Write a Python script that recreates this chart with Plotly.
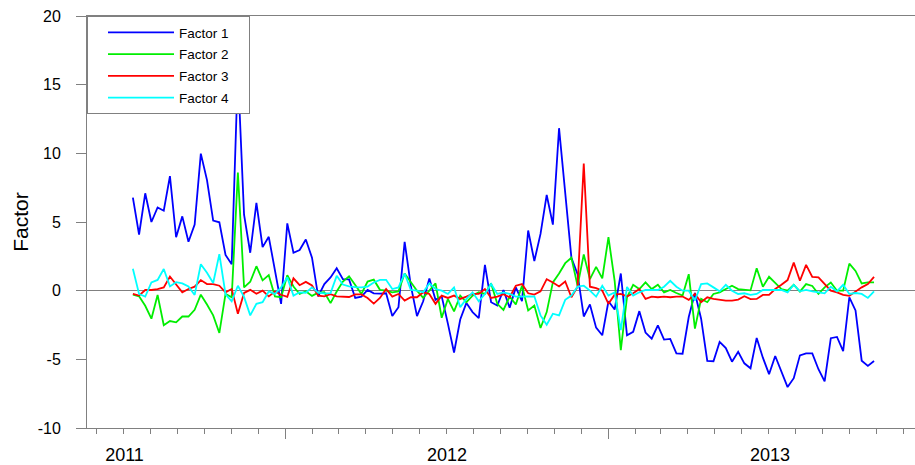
import pandas as pd
import plotly.graph_objects as go

# Weekly factor scores
start_date = "2011-07-12"
n_weeks = 121

factor1 = [6.78, 4.09, 7.09, 5.0, 6.06, 5.82, 8.34, 3.89, 5.41, 3.56,
           4.81, 9.98, 8.05, 5.1, 4.98, 2.6, 1.92, 16.0, 5.53, 2.76,
           6.4, 3.17, 3.92, 1.5, -0.96, 4.9, 2.76, 2.96, 3.73, 2.4,
           -0.41, 0.48, 0.96, 1.63, 0.84, 0.82, -0.53, -0.43, 0.05, -0.19,
           -0.22, -0.19, -1.85, -1.2, 3.56, 0.36, -1.85, -0.77, 0.89, -0.67,
           -0.41, -2.4, -4.5, -2.1, -0.89, -1.56, -2.0, 1.88, -0.84, -1.08,
           0.05, -1.25, 0.24, -0.77, 4.38, 2.16, 4.13, 6.97, 4.81, 11.83,
           7.33, 2.4, 1.2, -1.88, -1.0, -2.69, -3.25, -0.77, -1.37, 1.25,
           -3.25, -3.0, -1.49, -3.05, -3.49, -2.52, -3.56, -3.51, -4.57, -4.59,
           -1.92, -0.17, -2.04, -5.12, -5.14, -3.73, -4.18, -5.17, -4.45, -5.29,
           -5.65, -3.44, -4.88, -6.08, -4.76, -5.84, -7.02, -6.37, -4.71, -4.57,
           -4.57, -5.72, -6.61, -3.46, -3.37, -4.4, -0.48, -1.44, -5.1, -5.48,
           -5.12]

factor2 = [-0.29, -0.41, -1.1, -2.04, -0.31, -2.52, -2.21, -2.31, -1.88, -1.88,
           -1.39, -0.29, -1.01, -1.8, -3.08, -0.24, -0.48, 8.6, 0.24, 0.65,
           1.78, 0.75, 1.13, -0.42, -0.48, 1.13, 0.3, -0.24, -0.04, -0.38,
           -0.15, -0.12, -0.91, -0.06, 0.66, 1.05, 0.42, -0.24, 0.66, 0.8,
           0.06, 0.0, -0.12, -0.05, 1.25, 0.6, 0.0, -0.53, 0.0, 0.53,
           -1.97, -0.6, -1.51, -0.36, -0.84, -0.36, -0.12, -0.24, 0.53, -0.96,
           -1.4, -0.43, -1.01, 0.36, -1.44, -1.08, -2.72, -1.56, 0.6, 1.25,
           2.0, 2.4, 0.36, 2.64, 0.84, 1.73, 0.89, 3.89, 0.72, -4.33,
           -0.48, 0.43, 0.12, 0.6, 0.12, 0.43, -0.12, 0.05, -0.17, -0.36,
           1.2, -2.76, -0.6, -0.84, -0.24, -0.12, 0.12, 0.36, 0.12, 0.05,
           0.02, 1.63, 0.29, 1.01, 0.53, 0.12, 0.0, 0.43, -0.07, 0.48,
           0.34, -0.24, 0.24, 0.6, 0.0, 0.0, 1.97, 1.44, 0.53, 0.6,
           0.6]

factor3 = [-0.24, -0.36, 0.05, 0.05, 0.12, 0.24, 1.03, 0.43, -0.12, 0.12,
           0.29, 0.77, 0.48, 0.48, 0.36, -0.12, 0.12, -1.68, -0.17, 0.06,
           -0.22, 0.0, -0.42, -0.06, -0.3, -0.45, 0.9, 0.4, 0.64, 0.38,
           -0.36, -0.41, -0.26, -0.41, -0.42, -0.46, -0.27, -0.27, -0.54, -0.94,
           -0.53, 0.12, -0.43, -0.24, -0.72, -0.48, -0.48, -0.12, -0.24, -0.96,
           -0.36, -0.53, -0.36, -0.6, -0.43, -0.24, -0.24, 0.12, -0.53, -0.43,
           -0.26, -0.48, 0.36, 0.48, -0.19, -0.29, -0.05, 0.84, 0.6, 0.31,
           0.67, -0.48, 0.29, 9.25, 0.29, 0.19, 0.0, -0.96, -0.29, -0.24,
           -0.42, -0.19, 0.12, -0.6, -0.43, -0.48, -0.43, -0.48, -0.43, -0.43,
           -0.67, -0.24, -0.84, -0.48, -0.6, -0.67, -0.72, -0.72, -0.65, -0.41,
           -0.62, -0.6, -0.31, -0.31, 0.12, 0.43, 0.77, 2.04, 0.72, 1.88,
           1.01, 0.96, 0.48, 0.0, -0.12, -0.31, -0.38, -0.05, 0.24, 0.48,
           1.01]

factor4 = [1.6, -0.24, -0.43, 0.6, 0.78, 1.58, 0.31, 0.62, 0.53, 0.3,
           -0.31, 1.92, 1.3, 0.56, 2.66, -0.26, -0.78, 0.36, -0.45, -1.8,
           -0.96, -0.84, -0.06, -0.24, 0.24, 0.98, -0.36, -0.12, -0.15, 0.24,
           -0.15, -0.2, -0.18, 1.08, 0.45, 0.32, 0.26, 0.24, 0.3, 0.6,
           0.78, 0.79, 0.12, 0.24, 1.25, 0.05, 0.0, -0.12, 0.53, 0.12,
           0.0, -0.24, 0.24, -1.2, -0.6, -0.12, -0.77, -0.24, 0.48, -0.24,
           -0.12, -0.24, -0.43, -0.43, -0.41, -0.41, -1.8, -2.48, -1.68, -1.8,
           -0.67, -0.36, 0.29, 0.36, 0.0, -0.43, 0.36, -0.36, -0.12, -2.88,
           0.27, -0.36, -0.12, 0.05, 0.05, 0.05, 0.29, 0.72, 0.29, 0.0,
           0.0, -0.72, 0.48, 0.53, 0.24, -0.05, 0.43, 0.0, -0.24, -0.19,
           -0.3, -0.24, 0.05, 0.05, 0.05, 0.05, -0.12, 0.43, -0.05, 0.05,
           -0.05, -0.12, -0.19, 0.29, -0.05, 0.43, -0.24, -0.17, -0.24, -0.53,
           -0.05]

series_names = ["Factor 1", "Factor 2", "Factor 3", "Factor 4"]
series_colors = ["#0000ff", "#00ee00", "#ff0000", "#00ffff"]

y_tick_values = [-10, -5, 0, 5, 10, 15, 20]
y_tick_labels = ["-10", "-5", "0", "5", "10", "15", "20"]

dates = pd.date_range(start_date, periods=n_weeks, freq="7D")

fig = go.Figure()
for name, values, color in zip(series_names,
                               [factor1, factor2, factor3, factor4],
                               series_colors):
    fig.add_trace(go.Scatter(x=dates, y=values, mode="lines",
                             name=name + "\u00a0\u00a0\u00a0\u00a0",
                             legendgroup=name,
                             line=dict(color=color, width=1.8)))

axis_gray = "#808080"
font_family = "Arial, Liberation Sans, sans-serif"

fig.update_layout(
    width=915, height=465,
    margin=dict(l=87, r=0, t=16, b=33),
    paper_bgcolor="white", plot_bgcolor="white",
    font=dict(family=font_family, color="black"),
    legend=dict(x=0, y=1, xanchor="left", yanchor="top",
                bgcolor="white", bordercolor=axis_gray, borderwidth=1,
                font=dict(size=13.5, color="black"),
                indentation=15, itemwidth=66, tracegroupgap=1.2),
)

fig.update_xaxes(
    type="date",
    range=["2011-05-21", "2013-12-14 10:00"],
    showgrid=False, zeroline=False,
    showline=True, linecolor=axis_gray, linewidth=1, mirror=True,
    ticks="outside", ticklen=10, tickcolor=axis_gray, tickwidth=1,
    dtick="M12", tick0="2011-01-01", ticklabelmode="period",
    tickformat="%Y", tickfont=dict(size=18),
    minor=dict(dtick="M1", tick0="2011-01-01", ticks="outside",
               ticklen=5, tickcolor=axis_gray, tickwidth=1),
)

fig.update_yaxes(
    range=[-10, 20],
    tickmode="array", tickvals=y_tick_values, ticktext=y_tick_labels,
    showgrid=False,
    zeroline=True, zerolinecolor=axis_gray, zerolinewidth=1,
    showline=True, linecolor=axis_gray, linewidth=1,
    ticks="outside", ticklen=10, tickcolor=axis_gray, tickwidth=1,
    tickfont=dict(size=16), ticklabelstandoff=12,
    title=dict(text="Factor", font=dict(size=21), standoff=3),
)

fig.write_html("out.html")
